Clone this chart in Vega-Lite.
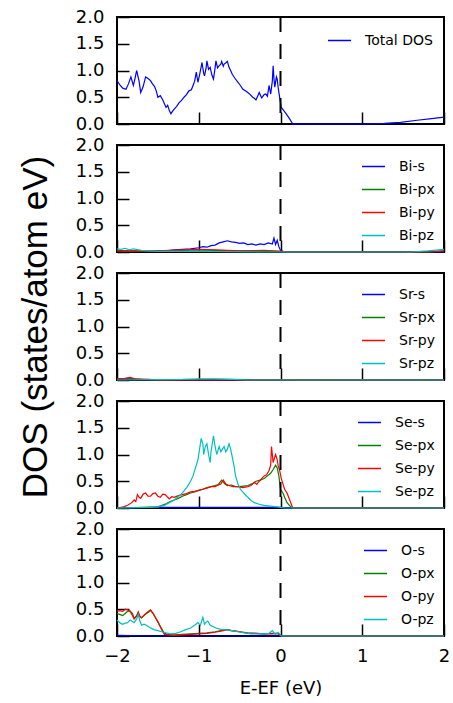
{
  "$schema": "https://vega.github.io/schema/vega-lite/v6.json",
  "padding": {"left": 17, "top": 7, "right": 5, "bottom": 5},
  "bounds": "flush",
  "spacing": 21,
  "datasets": {
    "total": [
      {"E":-2.0,"v":0.81,"o":"Total DOS"},{"E":-1.96,"v":0.72,"o":"Total DOS"},{"E":-1.93,"v":0.67,"o":"Total DOS"},{"E":-1.89,"v":0.65,"o":"Total DOS"},{"E":-1.86,"v":0.75,"o":"Total DOS"},{"E":-1.83,"v":0.88,"o":"Total DOS"},{"E":-1.80,"v":0.72,"o":"Total DOS"},{"E":-1.78,"v":0.85,"o":"Total DOS"},{"E":-1.76,"v":1.00,"o":"Total DOS"},{"E":-1.73,"v":0.80,"o":"Total DOS"},{"E":-1.71,"v":0.59,"o":"Total DOS"},{"E":-1.68,"v":0.70,"o":"Total DOS"},{"E":-1.65,"v":0.88,"o":"Total DOS"},{"E":-1.62,"v":0.85,"o":"Total DOS"},{"E":-1.59,"v":0.81,"o":"Total DOS"},{"E":-1.57,"v":0.76,"o":"Total DOS"},{"E":-1.54,"v":0.70,"o":"Total DOS"},{"E":-1.52,"v":0.62,"o":"Total DOS"},{"E":-1.50,"v":0.50,"o":"Total DOS"},{"E":-1.47,"v":0.53,"o":"Total DOS"},{"E":-1.44,"v":0.45,"o":"Total DOS"},{"E":-1.42,"v":0.38,"o":"Total DOS"},{"E":-1.40,"v":0.31,"o":"Total DOS"},{"E":-1.38,"v":0.35,"o":"Total DOS"},{"E":-1.36,"v":0.25,"o":"Total DOS"},{"E":-1.34,"v":0.19,"o":"Total DOS"},{"E":-1.32,"v":0.24,"o":"Total DOS"},{"E":-1.30,"v":0.28,"o":"Total DOS"},{"E":-1.27,"v":0.33,"o":"Total DOS"},{"E":-1.24,"v":0.40,"o":"Total DOS"},{"E":-1.21,"v":0.44,"o":"Total DOS"},{"E":-1.18,"v":0.50,"o":"Total DOS"},{"E":-1.15,"v":0.55,"o":"Total DOS"},{"E":-1.12,"v":0.62,"o":"Total DOS"},{"E":-1.09,"v":0.64,"o":"Total DOS"},{"E":-1.07,"v":0.72,"o":"Total DOS"},{"E":-1.05,"v":0.80,"o":"Total DOS"},{"E":-1.03,"v":0.97,"o":"Total DOS"},{"E":-1.01,"v":0.78,"o":"Total DOS"},{"E":-0.99,"v":0.92,"o":"Total DOS"},{"E":-0.96,"v":1.15,"o":"Total DOS"},{"E":-0.94,"v":0.95,"o":"Total DOS"},{"E":-0.93,"v":0.90,"o":"Total DOS"},{"E":-0.91,"v":1.05,"o":"Total DOS"},{"E":-0.90,"v":1.18,"o":"Total DOS"},{"E":-0.88,"v":1.02,"o":"Total DOS"},{"E":-0.86,"v":1.06,"o":"Total DOS"},{"E":-0.84,"v":0.92,"o":"Total DOS"},{"E":-0.82,"v":0.84,"o":"Total DOS"},{"E":-0.80,"v":1.05,"o":"Total DOS"},{"E":-0.79,"v":1.18,"o":"Total DOS"},{"E":-0.77,"v":1.05,"o":"Total DOS"},{"E":-0.75,"v":1.09,"o":"Total DOS"},{"E":-0.73,"v":1.12,"o":"Total DOS"},{"E":-0.72,"v":1.17,"o":"Total DOS"},{"E":-0.70,"v":1.08,"o":"Total DOS"},{"E":-0.69,"v":1.12,"o":"Total DOS"},{"E":-0.67,"v":1.14,"o":"Total DOS"},{"E":-0.65,"v":1.17,"o":"Total DOS"},{"E":-0.63,"v":1.06,"o":"Total DOS"},{"E":-0.61,"v":1.00,"o":"Total DOS"},{"E":-0.59,"v":0.93,"o":"Total DOS"},{"E":-0.56,"v":0.86,"o":"Total DOS"},{"E":-0.52,"v":0.78,"o":"Total DOS"},{"E":-0.49,"v":0.72,"o":"Total DOS"},{"E":-0.46,"v":0.65,"o":"Total DOS"},{"E":-0.43,"v":0.62,"o":"Total DOS"},{"E":-0.40,"v":0.59,"o":"Total DOS"},{"E":-0.37,"v":0.55,"o":"Total DOS"},{"E":-0.34,"v":0.50,"o":"Total DOS"},{"E":-0.32,"v":0.48,"o":"Total DOS"},{"E":-0.30,"v":0.45,"o":"Total DOS"},{"E":-0.28,"v":0.52,"o":"Total DOS"},{"E":-0.26,"v":0.59,"o":"Total DOS"},{"E":-0.24,"v":0.52,"o":"Total DOS"},{"E":-0.23,"v":0.49,"o":"Total DOS"},{"E":-0.20,"v":0.55,"o":"Total DOS"},{"E":-0.18,"v":0.56,"o":"Total DOS"},{"E":-0.16,"v":0.52,"o":"Total DOS"},{"E":-0.14,"v":0.72,"o":"Total DOS"},{"E":-0.12,"v":0.56,"o":"Total DOS"},{"E":-0.10,"v":0.80,"o":"Total DOS"},{"E":-0.09,"v":1.09,"o":"Total DOS"},{"E":-0.08,"v":0.85,"o":"Total DOS"},{"E":-0.07,"v":0.69,"o":"Total DOS"},{"E":-0.05,"v":0.88,"o":"Total DOS"},{"E":-0.04,"v":0.84,"o":"Total DOS"},{"E":-0.03,"v":0.70,"o":"Total DOS"},{"E":-0.02,"v":0.59,"o":"Total DOS"},{"E":0.0,"v":0.40,"o":"Total DOS"},{"E":0.01,"v":0.31,"o":"Total DOS"},{"E":0.04,"v":0.25,"o":"Total DOS"},{"E":0.07,"v":0.19,"o":"Total DOS"},{"E":0.11,"v":0.10,"o":"Total DOS"},{"E":0.15,"v":0.0,"o":"Total DOS"},{"E":0.5,"v":0.0,"o":"Total DOS"},{"E":1.0,"v":0.0,"o":"Total DOS"},{"E":1.27,"v":0.01,"o":"Total DOS"},{"E":1.47,"v":0.03,"o":"Total DOS"},{"E":1.67,"v":0.07,"o":"Total DOS"},{"E":1.85,"v":0.10,"o":"Total DOS"},{"E":2.0,"v":0.13,"o":"Total DOS"}
    ],
    "bi": [
      {"E":-2,"v":0.03,"o":"Bi-s"},{"E":-1.9,"v":0.02,"o":"Bi-s"},{"E":-1.8,"v":0.02,"o":"Bi-s"},{"E":-1.6,"v":0.01,"o":"Bi-s"},{"E":-1.5,"v":0.02,"o":"Bi-s"},{"E":-1.4,"v":0.02,"o":"Bi-s"},{"E":-1.3,"v":0.04,"o":"Bi-s"},{"E":-1.2,"v":0.05,"o":"Bi-s"},{"E":-1.1,"v":0.06,"o":"Bi-s"},{"E":-1.0,"v":0.08,"o":"Bi-s"},{"E":-0.95,"v":0.10,"o":"Bi-s"},{"E":-0.9,"v":0.09,"o":"Bi-s"},{"E":-0.85,"v":0.12,"o":"Bi-s"},{"E":-0.8,"v":0.13,"o":"Bi-s"},{"E":-0.75,"v":0.17,"o":"Bi-s"},{"E":-0.7,"v":0.19,"o":"Bi-s"},{"E":-0.65,"v":0.21,"o":"Bi-s"},{"E":-0.6,"v":0.19,"o":"Bi-s"},{"E":-0.55,"v":0.18,"o":"Bi-s"},{"E":-0.5,"v":0.16,"o":"Bi-s"},{"E":-0.45,"v":0.17,"o":"Bi-s"},{"E":-0.4,"v":0.14,"o":"Bi-s"},{"E":-0.35,"v":0.15,"o":"Bi-s"},{"E":-0.3,"v":0.13,"o":"Bi-s"},{"E":-0.25,"v":0.15,"o":"Bi-s"},{"E":-0.2,"v":0.14,"o":"Bi-s"},{"E":-0.15,"v":0.17,"o":"Bi-s"},{"E":-0.1,"v":0.15,"o":"Bi-s"},{"E":-0.08,"v":0.26,"o":"Bi-s"},{"E":-0.06,"v":0.14,"o":"Bi-s"},{"E":-0.04,"v":0.22,"o":"Bi-s"},{"E":-0.02,"v":0.10,"o":"Bi-s"},{"E":0.0,"v":0.03,"o":"Bi-s"},{"E":0.05,"v":0.0,"o":"Bi-s"},{"E":2.0,"v":0.0,"o":"Bi-s"},
      {"E":-2,"v":0.02,"o":"Bi-px"},{"E":-1.8,"v":0.02,"o":"Bi-px"},{"E":-1.5,"v":0.01,"o":"Bi-px"},{"E":-1.2,"v":0.03,"o":"Bi-px"},{"E":-1.0,"v":0.04,"o":"Bi-px"},{"E":-0.8,"v":0.03,"o":"Bi-px"},{"E":-0.5,"v":0.02,"o":"Bi-px"},{"E":-0.2,"v":0.03,"o":"Bi-px"},{"E":0.0,"v":0.01,"o":"Bi-px"},{"E":0.1,"v":0.0,"o":"Bi-px"},{"E":1.8,"v":0.0,"o":"Bi-px"},{"E":2.0,"v":0.02,"o":"Bi-px"},
      {"E":-2,"v":0.02,"o":"Bi-py"},{"E":-1.8,"v":0.01,"o":"Bi-py"},{"E":-1.5,"v":0.02,"o":"Bi-py"},{"E":-1.2,"v":0.04,"o":"Bi-py"},{"E":-1.0,"v":0.05,"o":"Bi-py"},{"E":-0.8,"v":0.04,"o":"Bi-py"},{"E":-0.5,"v":0.02,"o":"Bi-py"},{"E":-0.2,"v":0.02,"o":"Bi-py"},{"E":0.0,"v":0.01,"o":"Bi-py"},{"E":0.1,"v":0.0,"o":"Bi-py"},{"E":1.8,"v":0.0,"o":"Bi-py"},{"E":2.0,"v":0.02,"o":"Bi-py"},
      {"E":-2,"v":0.06,"o":"Bi-pz"},{"E":-1.95,"v":0.05,"o":"Bi-pz"},{"E":-1.9,"v":0.07,"o":"Bi-pz"},{"E":-1.85,"v":0.04,"o":"Bi-pz"},{"E":-1.8,"v":0.06,"o":"Bi-pz"},{"E":-1.7,"v":0.03,"o":"Bi-pz"},{"E":-1.5,"v":0.01,"o":"Bi-pz"},{"E":-1.0,"v":0.01,"o":"Bi-pz"},{"E":0.0,"v":0.0,"o":"Bi-pz"},{"E":1.6,"v":0.0,"o":"Bi-pz"},{"E":1.8,"v":0.02,"o":"Bi-pz"},{"E":2.0,"v":0.05,"o":"Bi-pz"}
    ],
    "sr": [
      {"E":-2,"v":0.01,"o":"Sr-s"},{"E":-1.5,"v":0.0,"o":"Sr-s"},{"E":2,"v":0.0,"o":"Sr-s"},
      {"E":-2,"v":0.02,"o":"Sr-px"},{"E":-1.85,"v":0.03,"o":"Sr-px"},{"E":-1.7,"v":0.01,"o":"Sr-px"},{"E":-1.5,"v":0.0,"o":"Sr-px"},{"E":-0.8,"v":0.01,"o":"Sr-px"},{"E":2,"v":0.0,"o":"Sr-px"},
      {"E":-2,"v":0.02,"o":"Sr-py"},{"E":-1.9,"v":0.03,"o":"Sr-py"},{"E":-1.84,"v":0.05,"o":"Sr-py"},{"E":-1.78,"v":0.02,"o":"Sr-py"},{"E":-1.6,"v":0.01,"o":"Sr-py"},{"E":-1.5,"v":0.0,"o":"Sr-py"},{"E":2,"v":0.0,"o":"Sr-py"},
      {"E":-2,"v":0.0,"o":"Sr-pz"},{"E":-1.2,"v":0.01,"o":"Sr-pz"},{"E":-1.0,"v":0.02,"o":"Sr-pz"},{"E":-0.8,"v":0.02,"o":"Sr-pz"},{"E":-0.6,"v":0.01,"o":"Sr-pz"},{"E":-0.4,"v":0.0,"o":"Sr-pz"},{"E":2,"v":0.0,"o":"Sr-pz"}
    ],
    "se": [
      {"E":-2,"v":0.0,"o":"Se-s"},{"E":-1.5,"v":0.01,"o":"Se-s"},{"E":-1,"v":0.01,"o":"Se-s"},{"E":0,"v":0.01,"o":"Se-s"},{"E":0.1,"v":0.0,"o":"Se-s"},{"E":2,"v":0.0,"o":"Se-s"},
      {"E":-2,"v":0.0,"o":"Se-px"},{"E":-1.5,"v":0.02,"o":"Se-px"},{"E":-1.45,"v":0.05,"o":"Se-px"},{"E":-1.4,"v":0.08,"o":"Se-px"},{"E":-1.35,"v":0.12,"o":"Se-px"},{"E":-1.3,"v":0.15,"o":"Se-px"},{"E":-1.25,"v":0.18,"o":"Se-px"},{"E":-1.2,"v":0.22,"o":"Se-px"},{"E":-1.15,"v":0.25,"o":"Se-px"},{"E":-1.1,"v":0.28,"o":"Se-px"},{"E":-1.05,"v":0.3,"o":"Se-px"},{"E":-1.0,"v":0.33,"o":"Se-px"},{"E":-0.95,"v":0.35,"o":"Se-px"},{"E":-0.9,"v":0.38,"o":"Se-px"},{"E":-0.85,"v":0.4,"o":"Se-px"},{"E":-0.8,"v":0.42,"o":"Se-px"},{"E":-0.76,"v":0.44,"o":"Se-px"},{"E":-0.72,"v":0.52,"o":"Se-px"},{"E":-0.68,"v":0.45,"o":"Se-px"},{"E":-0.65,"v":0.42,"o":"Se-px"},{"E":-0.6,"v":0.43,"o":"Se-px"},{"E":-0.55,"v":0.4,"o":"Se-px"},{"E":-0.5,"v":0.4,"o":"Se-px"},{"E":-0.45,"v":0.41,"o":"Se-px"},{"E":-0.4,"v":0.42,"o":"Se-px"},{"E":-0.35,"v":0.45,"o":"Se-px"},{"E":-0.3,"v":0.5,"o":"Se-px"},{"E":-0.25,"v":0.52,"o":"Se-px"},{"E":-0.2,"v":0.55,"o":"Se-px"},{"E":-0.16,"v":0.6,"o":"Se-px"},{"E":-0.12,"v":0.65,"o":"Se-px"},{"E":-0.09,"v":0.72,"o":"Se-px"},{"E":-0.06,"v":0.8,"o":"Se-px"},{"E":-0.04,"v":0.75,"o":"Se-px"},{"E":-0.02,"v":0.6,"o":"Se-px"},{"E":0.0,"v":0.35,"o":"Se-px"},{"E":0.03,"v":0.28,"o":"Se-px"},{"E":0.05,"v":0.2,"o":"Se-px"},{"E":0.08,"v":0.1,"o":"Se-px"},{"E":0.12,"v":0.03,"o":"Se-px"},{"E":0.15,"v":0.0,"o":"Se-px"},{"E":2,"v":0.0,"o":"Se-px"},
      {"E":-2,"v":0.0,"o":"Se-py"},{"E":-1.92,"v":0.02,"o":"Se-py"},{"E":-1.87,"v":0.05,"o":"Se-py"},{"E":-1.82,"v":0.1,"o":"Se-py"},{"E":-1.79,"v":0.15,"o":"Se-py"},{"E":-1.77,"v":0.12,"o":"Se-py"},{"E":-1.75,"v":0.25,"o":"Se-py"},{"E":-1.73,"v":0.2,"o":"Se-py"},{"E":-1.71,"v":0.18,"o":"Se-py"},{"E":-1.68,"v":0.26,"o":"Se-py"},{"E":-1.65,"v":0.28,"o":"Se-py"},{"E":-1.62,"v":0.22,"o":"Se-py"},{"E":-1.59,"v":0.22,"o":"Se-py"},{"E":-1.56,"v":0.27,"o":"Se-py"},{"E":-1.53,"v":0.28,"o":"Se-py"},{"E":-1.5,"v":0.22,"o":"Se-py"},{"E":-1.47,"v":0.2,"o":"Se-py"},{"E":-1.44,"v":0.26,"o":"Se-py"},{"E":-1.41,"v":0.25,"o":"Se-py"},{"E":-1.38,"v":0.2,"o":"Se-py"},{"E":-1.36,"v":0.17,"o":"Se-py"},{"E":-1.33,"v":0.21,"o":"Se-py"},{"E":-1.3,"v":0.2,"o":"Se-py"},{"E":-1.25,"v":0.23,"o":"Se-py"},{"E":-1.2,"v":0.25,"o":"Se-py"},{"E":-1.15,"v":0.27,"o":"Se-py"},{"E":-1.1,"v":0.3,"o":"Se-py"},{"E":-1.05,"v":0.31,"o":"Se-py"},{"E":-1.0,"v":0.33,"o":"Se-py"},{"E":-0.95,"v":0.35,"o":"Se-py"},{"E":-0.9,"v":0.37,"o":"Se-py"},{"E":-0.85,"v":0.4,"o":"Se-py"},{"E":-0.8,"v":0.4,"o":"Se-py"},{"E":-0.76,"v":0.43,"o":"Se-py"},{"E":-0.73,"v":0.45,"o":"Se-py"},{"E":-0.7,"v":0.52,"o":"Se-py"},{"E":-0.67,"v":0.45,"o":"Se-py"},{"E":-0.63,"v":0.42,"o":"Se-py"},{"E":-0.58,"v":0.4,"o":"Se-py"},{"E":-0.52,"v":0.4,"o":"Se-py"},{"E":-0.46,"v":0.38,"o":"Se-py"},{"E":-0.4,"v":0.4,"o":"Se-py"},{"E":-0.36,"v":0.42,"o":"Se-py"},{"E":-0.32,"v":0.48,"o":"Se-py"},{"E":-0.29,"v":0.44,"o":"Se-py"},{"E":-0.26,"v":0.5,"o":"Se-py"},{"E":-0.23,"v":0.55,"o":"Se-py"},{"E":-0.2,"v":0.6,"o":"Se-py"},{"E":-0.17,"v":0.62,"o":"Se-py"},{"E":-0.14,"v":0.7,"o":"Se-py"},{"E":-0.12,"v":0.8,"o":"Se-py"},{"E":-0.11,"v":1.15,"o":"Se-py"},{"E":-0.09,"v":0.85,"o":"Se-py"},{"E":-0.07,"v":0.95,"o":"Se-py"},{"E":-0.06,"v":1.0,"o":"Se-py"},{"E":-0.04,"v":0.9,"o":"Se-py"},{"E":-0.03,"v":0.8,"o":"Se-py"},{"E":-0.01,"v":0.7,"o":"Se-py"},{"E":0.01,"v":0.55,"o":"Se-py"},{"E":0.03,"v":0.45,"o":"Se-py"},{"E":0.05,"v":0.35,"o":"Se-py"},{"E":0.08,"v":0.28,"o":"Se-py"},{"E":0.1,"v":0.2,"o":"Se-py"},{"E":0.13,"v":0.08,"o":"Se-py"},{"E":0.15,"v":0.0,"o":"Se-py"},{"E":2,"v":0.0,"o":"Se-py"},
      {"E":-2,"v":0.0,"o":"Se-pz"},{"E":-1.6,"v":0.01,"o":"Se-pz"},{"E":-1.5,"v":0.02,"o":"Se-pz"},{"E":-1.42,"v":0.05,"o":"Se-pz"},{"E":-1.36,"v":0.1,"o":"Se-pz"},{"E":-1.3,"v":0.15,"o":"Se-pz"},{"E":-1.26,"v":0.2,"o":"Se-pz"},{"E":-1.22,"v":0.25,"o":"Se-pz"},{"E":-1.18,"v":0.32,"o":"Se-pz"},{"E":-1.14,"v":0.4,"o":"Se-pz"},{"E":-1.1,"v":0.5,"o":"Se-pz"},{"E":-1.07,"v":0.6,"o":"Se-pz"},{"E":-1.04,"v":0.75,"o":"Se-pz"},{"E":-1.01,"v":0.9,"o":"Se-pz"},{"E":-0.99,"v":1.1,"o":"Se-pz"},{"E":-0.97,"v":1.3,"o":"Se-pz"},{"E":-0.95,"v":1.2,"o":"Se-pz"},{"E":-0.94,"v":1.0,"o":"Se-pz"},{"E":-0.92,"v":1.15,"o":"Se-pz"},{"E":-0.9,"v":1.2,"o":"Se-pz"},{"E":-0.88,"v":1.0,"o":"Se-pz"},{"E":-0.86,"v":0.85,"o":"Se-pz"},{"E":-0.85,"v":1.05,"o":"Se-pz"},{"E":-0.83,"v":1.25,"o":"Se-pz"},{"E":-0.82,"v":1.35,"o":"Se-pz"},{"E":-0.8,"v":1.15,"o":"Se-pz"},{"E":-0.78,"v":1.0,"o":"Se-pz"},{"E":-0.76,"v":1.1,"o":"Se-pz"},{"E":-0.75,"v":1.15,"o":"Se-pz"},{"E":-0.73,"v":1.05,"o":"Se-pz"},{"E":-0.71,"v":1.1,"o":"Se-pz"},{"E":-0.69,"v":1.15,"o":"Se-pz"},{"E":-0.67,"v":1.05,"o":"Se-pz"},{"E":-0.65,"v":1.1,"o":"Se-pz"},{"E":-0.63,"v":1.2,"o":"Se-pz"},{"E":-0.61,"v":1.1,"o":"Se-pz"},{"E":-0.59,"v":0.95,"o":"Se-pz"},{"E":-0.57,"v":0.8,"o":"Se-pz"},{"E":-0.55,"v":0.6,"o":"Se-pz"},{"E":-0.52,"v":0.45,"o":"Se-pz"},{"E":-0.49,"v":0.35,"o":"Se-pz"},{"E":-0.45,"v":0.28,"o":"Se-pz"},{"E":-0.4,"v":0.2,"o":"Se-pz"},{"E":-0.36,"v":0.14,"o":"Se-pz"},{"E":-0.32,"v":0.1,"o":"Se-pz"},{"E":-0.26,"v":0.07,"o":"Se-pz"},{"E":-0.2,"v":0.05,"o":"Se-pz"},{"E":-0.1,"v":0.03,"o":"Se-pz"},{"E":-0.04,"v":0.02,"o":"Se-pz"},{"E":0.0,"v":0.01,"o":"Se-pz"},{"E":0.05,"v":0.0,"o":"Se-pz"},{"E":2,"v":0.0,"o":"Se-pz"}
    ],
    "ox": [
      {"E":-2,"v":0.01,"o":"O-s"},{"E":-1.5,"v":0.0,"o":"O-s"},{"E":2,"v":0.0,"o":"O-s"},
      {"E":-2,"v":0.42,"o":"O-px"},{"E":-1.96,"v":0.4,"o":"O-px"},{"E":-1.93,"v":0.38,"o":"O-px"},{"E":-1.9,"v":0.42,"o":"O-px"},{"E":-1.87,"v":0.46,"o":"O-px"},{"E":-1.84,"v":0.47,"o":"O-px"},{"E":-1.81,"v":0.42,"o":"O-px"},{"E":-1.79,"v":0.33,"o":"O-px"},{"E":-1.76,"v":0.38,"o":"O-px"},{"E":-1.74,"v":0.44,"o":"O-px"},{"E":-1.72,"v":0.36,"o":"O-px"},{"E":-1.7,"v":0.34,"o":"O-px"},{"E":-1.67,"v":0.38,"o":"O-px"},{"E":-1.64,"v":0.42,"o":"O-px"},{"E":-1.61,"v":0.45,"o":"O-px"},{"E":-1.59,"v":0.48,"o":"O-px"},{"E":-1.56,"v":0.42,"o":"O-px"},{"E":-1.53,"v":0.34,"o":"O-px"},{"E":-1.5,"v":0.26,"o":"O-px"},{"E":-1.47,"v":0.18,"o":"O-px"},{"E":-1.44,"v":0.1,"o":"O-px"},{"E":-1.42,"v":0.05,"o":"O-px"},{"E":-1.38,"v":0.03,"o":"O-px"},{"E":-1.3,"v":0.02,"o":"O-px"},{"E":-1.2,"v":0.03,"o":"O-px"},{"E":-1.1,"v":0.04,"o":"O-px"},{"E":-1.0,"v":0.05,"o":"O-px"},{"E":-0.9,"v":0.06,"o":"O-px"},{"E":-0.8,"v":0.08,"o":"O-px"},{"E":-0.7,"v":0.11,"o":"O-px"},{"E":-0.65,"v":0.12,"o":"O-px"},{"E":-0.6,"v":0.1,"o":"O-px"},{"E":-0.55,"v":0.09,"o":"O-px"},{"E":-0.5,"v":0.08,"o":"O-px"},{"E":-0.4,"v":0.06,"o":"O-px"},{"E":-0.3,"v":0.05,"o":"O-px"},{"E":-0.2,"v":0.04,"o":"O-px"},{"E":-0.1,"v":0.05,"o":"O-px"},{"E":-0.04,"v":0.05,"o":"O-px"},{"E":0.0,"v":0.01,"o":"O-px"},{"E":0.03,"v":0.0,"o":"O-px"},{"E":2,"v":0.0,"o":"O-px"},
      {"E":-2,"v":0.47,"o":"O-py"},{"E":-1.96,"v":0.47,"o":"O-py"},{"E":-1.93,"v":0.46,"o":"O-py"},{"E":-1.9,"v":0.5,"o":"O-py"},{"E":-1.87,"v":0.49,"o":"O-py"},{"E":-1.84,"v":0.46,"o":"O-py"},{"E":-1.81,"v":0.38,"o":"O-py"},{"E":-1.79,"v":0.32,"o":"O-py"},{"E":-1.76,"v":0.37,"o":"O-py"},{"E":-1.74,"v":0.45,"o":"O-py"},{"E":-1.72,"v":0.37,"o":"O-py"},{"E":-1.7,"v":0.34,"o":"O-py"},{"E":-1.67,"v":0.39,"o":"O-py"},{"E":-1.64,"v":0.43,"o":"O-py"},{"E":-1.61,"v":0.47,"o":"O-py"},{"E":-1.59,"v":0.49,"o":"O-py"},{"E":-1.56,"v":0.43,"o":"O-py"},{"E":-1.53,"v":0.35,"o":"O-py"},{"E":-1.5,"v":0.27,"o":"O-py"},{"E":-1.47,"v":0.17,"o":"O-py"},{"E":-1.44,"v":0.08,"o":"O-py"},{"E":-1.42,"v":0.03,"o":"O-py"},{"E":-1.38,"v":0.02,"o":"O-py"},{"E":-1.3,"v":0.01,"o":"O-py"},{"E":-1.2,"v":0.02,"o":"O-py"},{"E":-1.1,"v":0.03,"o":"O-py"},{"E":-1.0,"v":0.04,"o":"O-py"},{"E":-0.9,"v":0.05,"o":"O-py"},{"E":-0.8,"v":0.07,"o":"O-py"},{"E":-0.7,"v":0.1,"o":"O-py"},{"E":-0.65,"v":0.12,"o":"O-py"},{"E":-0.6,"v":0.1,"o":"O-py"},{"E":-0.55,"v":0.09,"o":"O-py"},{"E":-0.5,"v":0.08,"o":"O-py"},{"E":-0.4,"v":0.05,"o":"O-py"},{"E":-0.3,"v":0.05,"o":"O-py"},{"E":-0.2,"v":0.04,"o":"O-py"},{"E":-0.1,"v":0.04,"o":"O-py"},{"E":-0.04,"v":0.05,"o":"O-py"},{"E":0.0,"v":0.01,"o":"O-py"},{"E":0.03,"v":0.0,"o":"O-py"},{"E":2,"v":0.0,"o":"O-py"},
      {"E":-2,"v":0.3,"o":"O-pz"},{"E":-1.96,"v":0.24,"o":"O-pz"},{"E":-1.93,"v":0.22,"o":"O-pz"},{"E":-1.9,"v":0.24,"o":"O-pz"},{"E":-1.87,"v":0.25,"o":"O-pz"},{"E":-1.84,"v":0.3,"o":"O-pz"},{"E":-1.81,"v":0.27,"o":"O-pz"},{"E":-1.79,"v":0.25,"o":"O-pz"},{"E":-1.76,"v":0.32,"o":"O-pz"},{"E":-1.74,"v":0.4,"o":"O-pz"},{"E":-1.72,"v":0.28,"o":"O-pz"},{"E":-1.7,"v":0.2,"o":"O-pz"},{"E":-1.67,"v":0.22,"o":"O-pz"},{"E":-1.64,"v":0.2,"o":"O-pz"},{"E":-1.6,"v":0.16,"o":"O-pz"},{"E":-1.55,"v":0.12,"o":"O-pz"},{"E":-1.5,"v":0.1,"o":"O-pz"},{"E":-1.45,"v":0.08,"o":"O-pz"},{"E":-1.4,"v":0.06,"o":"O-pz"},{"E":-1.34,"v":0.04,"o":"O-pz"},{"E":-1.28,"v":0.05,"o":"O-pz"},{"E":-1.22,"v":0.08,"o":"O-pz"},{"E":-1.16,"v":0.12,"o":"O-pz"},{"E":-1.1,"v":0.15,"o":"O-pz"},{"E":-1.05,"v":0.2,"o":"O-pz"},{"E":-1.01,"v":0.25,"o":"O-pz"},{"E":-0.98,"v":0.2,"o":"O-pz"},{"E":-0.96,"v":0.3,"o":"O-pz"},{"E":-0.95,"v":0.35,"o":"O-pz"},{"E":-0.93,"v":0.22,"o":"O-pz"},{"E":-0.91,"v":0.26,"o":"O-pz"},{"E":-0.89,"v":0.28,"o":"O-pz"},{"E":-0.86,"v":0.2,"o":"O-pz"},{"E":-0.83,"v":0.18,"o":"O-pz"},{"E":-0.79,"v":0.15,"o":"O-pz"},{"E":-0.74,"v":0.13,"o":"O-pz"},{"E":-0.69,"v":0.12,"o":"O-pz"},{"E":-0.6,"v":0.1,"o":"O-pz"},{"E":-0.52,"v":0.08,"o":"O-pz"},{"E":-0.44,"v":0.06,"o":"O-pz"},{"E":-0.36,"v":0.04,"o":"O-pz"},{"E":-0.28,"v":0.04,"o":"O-pz"},{"E":-0.2,"v":0.04,"o":"O-pz"},{"E":-0.14,"v":0.05,"o":"O-pz"},{"E":-0.1,"v":0.1,"o":"O-pz"},{"E":-0.08,"v":0.06,"o":"O-pz"},{"E":-0.06,"v":0.03,"o":"O-pz"},{"E":-0.03,"v":0.07,"o":"O-pz"},{"E":-0.01,"v":0.04,"o":"O-pz"},{"E":0.01,"v":0.0,"o":"O-pz"},{"E":2,"v":0.0,"o":"O-pz"}
    ],
    "fermi": [{"E":0}]
  },
  "vconcat": [
    {
      "width": 327, "height": 107,
      "layer": [
        {"data": {"name": "total"}, "mark": {"type": "line", "strokeWidth": 1.2},
         "encoding": {
           "x": {"field": "E", "type": "quantitative", "scale": {"domain": [-2, 2], "nice": false}, "axis": {"values": [-2,-1,0,1,2], "labels": false, "title": null}},
           "y": {"field": "v", "type": "quantitative", "scale": {"domain": [0, 2], "nice": false}, "axis": {"values": [0,0.5,1,1.5,2], "format": ".1f", "title": null}},
           "color": {"field": "o", "type": "nominal", "scale": {"domain": ["Total DOS"], "range": ["#0000ff"]}, "legend": {"title": null, "offset": 11}}
         }},
        {"data": {"name": "fermi"}, "mark": {"type": "rule", "strokeDash": [15, 12], "strokeWidth": 2, "color": "black"},
         "encoding": {"x": {"field": "E", "type": "quantitative"}}}
      ]
    },
    {
      "width": 327, "height": 107,
      "layer": [
        {"data": {"name": "bi"}, "mark": {"type": "line", "strokeWidth": 1.2},
         "encoding": {
           "x": {"field": "E", "type": "quantitative", "scale": {"domain": [-2, 2], "nice": false}, "axis": {"values": [-2,-1,0,1,2], "labels": false, "title": null}},
           "y": {"field": "v", "type": "quantitative", "scale": {"domain": [0, 2], "nice": false}, "axis": {"values": [0,0.5,1,1.5,2], "format": ".1f", "title": null}},
           "color": {"field": "o", "type": "nominal", "scale": {"domain": ["Bi-s","Bi-px","Bi-py","Bi-pz"], "range": ["#0000ff","#008000","#ff0000","#00bfbf"]}, "legend": {"title": null}}
         }},
        {"data": {"name": "fermi"}, "mark": {"type": "rule", "strokeDash": [15, 12], "strokeWidth": 2, "color": "black"},
         "encoding": {"x": {"field": "E", "type": "quantitative"}}}
      ]
    },
    {
      "width": 327, "height": 107,
      "layer": [
        {"data": {"name": "sr"}, "mark": {"type": "line", "strokeWidth": 1.2},
         "encoding": {
           "x": {"field": "E", "type": "quantitative", "scale": {"domain": [-2, 2], "nice": false}, "axis": {"values": [-2,-1,0,1,2], "labels": false, "title": null}},
           "y": {"field": "v", "type": "quantitative", "scale": {"domain": [0, 2], "nice": false}, "axis": {"values": [0,0.5,1,1.5,2], "format": ".1f", "title": "DOS (states/atom eV)", "titleFont": "Liberation Sans", "titleFontSize": 35, "titleFontWeight": "normal", "titleColor": "black", "titlePadding": 22}},
           "color": {"field": "o", "type": "nominal", "scale": {"domain": ["Sr-s","Sr-px","Sr-py","Sr-pz"], "range": ["#0000ff","#008000","#ff0000","#00bfbf"]}, "legend": {"title": null}}
         }},
        {"data": {"name": "fermi"}, "mark": {"type": "rule", "strokeDash": [15, 12], "strokeWidth": 2, "color": "black"},
         "encoding": {"x": {"field": "E", "type": "quantitative"}}}
      ]
    },
    {
      "width": 327, "height": 107,
      "layer": [
        {"data": {"name": "se"}, "mark": {"type": "line", "strokeWidth": 1.2},
         "encoding": {
           "x": {"field": "E", "type": "quantitative", "scale": {"domain": [-2, 2], "nice": false}, "axis": {"values": [-2,-1,0,1,2], "labels": false, "title": null}},
           "y": {"field": "v", "type": "quantitative", "scale": {"domain": [0, 2], "nice": false}, "axis": {"values": [0,0.5,1,1.5,2], "format": ".1f", "title": null}},
           "color": {"field": "o", "type": "nominal", "scale": {"domain": ["Se-s","Se-px","Se-py","Se-pz"], "range": ["#0000ff","#008000","#ff0000","#00bfbf"]}, "legend": {"title": null}}
         }},
        {"data": {"name": "fermi"}, "mark": {"type": "rule", "strokeDash": [15, 12], "strokeWidth": 2, "color": "black"},
         "encoding": {"x": {"field": "E", "type": "quantitative"}}}
      ]
    },
    {
      "width": 327, "height": 107,
      "layer": [
        {"data": {"name": "ox"}, "mark": {"type": "line", "strokeWidth": 1.2},
         "encoding": {
           "x": {"field": "E", "type": "quantitative", "scale": {"domain": [-2, 2], "nice": false}, "axis": {"values": [-2,-1,0,1,2], "format": "d", "title": "E-EF (eV)", "titleFont": "DejaVu Sans", "titleFontSize": 18, "titleFontWeight": "normal", "titleColor": "black", "labelPadding": 23, "titlePadding": 14}},
           "y": {"field": "v", "type": "quantitative", "scale": {"domain": [0, 2], "nice": false}, "axis": {"values": [0,0.5,1,1.5,2], "format": ".1f", "title": null}},
           "color": {"field": "o", "type": "nominal", "scale": {"domain": ["O-s","O-px","O-py","O-pz"], "range": ["#0000ff","#008000","#ff0000","#00bfbf"]}, "legend": {"title": null}}
         }},
        {"data": {"name": "fermi"}, "mark": {"type": "rule", "strokeDash": [15, 12], "strokeWidth": 2, "color": "black"},
         "encoding": {"x": {"field": "E", "type": "quantitative"}}}
      ]
    }
  ],
  "resolve": {"scale": {"color": "independent"}, "legend": {"color": "independent"}},
  "config": {
    "view": {"stroke": "black", "strokeWidth": 2},
    "axis": {"grid": false, "domain": false, "tickSize": -12, "tickWidth": 1.5, "tickColor": "black", "labelFont": "DejaVu Sans", "labelFontSize": 18, "labelColor": "black", "labelPadding": 25, "labelFlush": false},
    "legend": {"orient": "top-right", "offset": 9, "symbolType": "stroke", "symbolSize": 529, "symbolStrokeWidth": 1.5, "labelFont": "DejaVu Sans", "labelFontSize": 14, "labelColor": "black", "labelOffset": 13, "rowPadding": 3, "padding": 0}
  }
}
